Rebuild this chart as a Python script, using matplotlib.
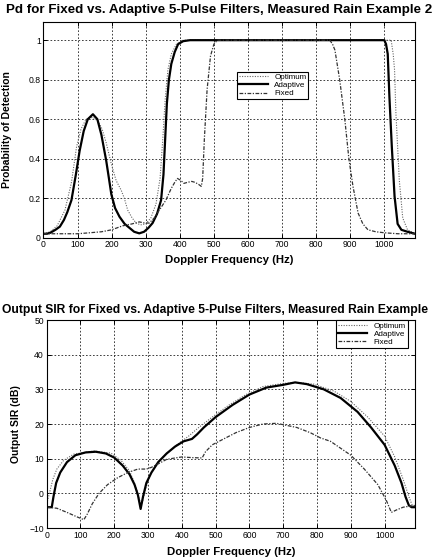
import numpy as np
import matplotlib
matplotlib.use("Agg")
import matplotlib.pyplot as plt

plt.rcParams['font.family'] = ['Liberation Sans', 'DejaVu Sans']

# --- Pd curves (Doppler frequency in Hz, probability of detection) ---
pd_opt_f = [0, 20, 40, 63, 82, 97, 110, 125, 145, 160, 172, 184, 198, 213, 228, 237,
            247, 260, 272, 285, 300, 315, 330, 342, 350, 357, 365, 375, 390, 410,
            1020, 1026, 1030, 1034, 1044, 1054, 1068, 1090]
pd_opt = [0.02, 0.03, 0.06, 0.14, 0.28, 0.46, 0.55, 0.6, 0.61, 0.59, 0.55, 0.48, 0.38,
          0.29, 0.24, 0.2, 0.14, 0.1, 0.074, 0.065, 0.07, 0.1, 0.17, 0.3, 0.5, 0.7,
          0.85, 0.93, 0.98, 1.0, 1.0, 0.93, 0.85, 0.63, 0.29, 0.1, 0.04, 0.02]

pd_adp_f = [0, 10, 20, 35, 48, 60, 70, 82, 95, 106, 118, 130, 145, 158, 170, 184, 192,
            199, 210, 223, 238, 252, 266, 281, 295, 308, 320, 333, 345, 352, 357, 362,
            368, 375, 385, 395, 410, 430, 1000, 1005, 1010, 1015, 1022, 1030, 1039,
            1050, 1068, 1090]
pd_adp = [0.02, 0.02, 0.025, 0.04, 0.056, 0.09, 0.13, 0.19, 0.32, 0.44, 0.54, 0.6, 0.625,
          0.6, 0.52, 0.39, 0.3, 0.22, 0.15, 0.106, 0.07, 0.05, 0.03, 0.022, 0.03, 0.05,
          0.074, 0.12, 0.19, 0.32, 0.5, 0.68, 0.8, 0.88, 0.94, 0.98, 0.995, 1.0, 1.0,
          0.98, 0.93, 0.71, 0.46, 0.21, 0.07, 0.04, 0.03, 0.02]

pd_fix_f = [0, 50, 100, 136, 170, 200, 232, 260, 281, 295, 310, 325, 340, 359, 375, 385,
            393, 403, 412, 422, 435, 445, 455, 463, 467, 472, 480, 490, 500, 510, 840,
            848, 855, 869, 884, 896, 908, 923, 937, 952, 975, 1000, 1040, 1090]
pd_fix = [0.02, 0.02, 0.02, 0.025, 0.03, 0.04, 0.06, 0.07, 0.08, 0.075, 0.074, 0.1, 0.14,
          0.19, 0.25, 0.28, 0.3, 0.29, 0.275, 0.28, 0.285, 0.28, 0.27, 0.26, 0.3, 0.5,
          0.75, 0.92, 0.98, 1.0, 1.0, 0.98, 0.95, 0.8, 0.6, 0.4, 0.26, 0.125, 0.07, 0.04,
          0.03, 0.025, 0.02, 0.02]

# --- Output SIR curves (dB) ---
sir_opt_f = [0, 8, 18, 30, 50, 80, 140, 190, 220, 245, 262, 275, 282, 292, 305, 325, 350,
             385, 420, 450, 490, 540, 590, 640, 700, 740, 790, 850, 900, 950, 1000, 1030,
             1055, 1072, 1082, 1090]
sir_opt = [-3, 0, 4, 7, 9.5, 11.3, 12.2, 11.6, 9.5, 6.5, 2.5, -2, -3, 1, 5, 8.5, 11, 14,
           16.5, 19, 22, 25.5, 28.5, 30.8, 31.7, 32, 31.5, 29.5, 26.5, 22, 16.5, 10.5, 4,
           -1, -3.5, -3.5]

sir_adp_f = [0, 15, 20, 28, 40, 60, 85, 115, 145, 175, 200, 225, 245, 260, 270, 278, 285,
             295, 310, 330, 355, 380, 405, 430, 445, 465, 500, 550, 600, 650, 700, 735,
             770, 820, 870, 920, 960, 1000, 1030, 1050, 1062, 1072, 1080, 1090]
sir_adp = [-4, -4, -1, 3, 6, 9, 11, 11.8, 12, 11.5, 10.3, 8, 5.5, 2.5, -0.5, -4.5, -1, 3,
           6, 9, 11.5, 13.5, 15, 15.7, 17, 19, 22, 25.5, 28.5, 30.5, 31.3, 32, 31.5, 30,
           27.5, 23.5, 19, 14, 8, 3, -1, -3.5, -4, -4]

sir_fix_f = [0, 30, 60, 90, 110, 120, 135, 155, 180, 210, 240, 270, 295, 310, 330, 355, 380,
             400, 430, 460, 470, 490, 520, 560, 600, 640, 680, 700, 740, 780, 810, 840,
             870, 900, 940, 980, 1005, 1020, 1035, 1055, 1075, 1090]
sir_fix = [-4, -4.3, -5.5, -6.8, -7.6, -6, -3, 0, 2.5, 4.5, 6, 7, 7, 7.5, 8.5, 9.8, 10.2,
           10.5, 10.3, 10.2, 12, 14, 15.5, 17.5, 19, 20, 20.2, 19.8, 19, 17.5, 16, 15, 13,
           11, 7, 2.5, -2, -5.5, -4.8, -4, -3.7, -3.5]

labels = ["Optimum", "Adaptive", "Fixed"]
x_ticks = list(range(0, 1001, 100))
pd_ticks = [0, 0.2, 0.4, 0.6, 0.8, 1.0]
pd_tick_labels = ["0", "0.2", "0.4", "0.6", "0.8", "1"]
sir_ticks = list(range(-10, 51, 10))

W, H = 439, 558
fig = plt.figure(figsize=(W / 100, H / 100), dpi=100)


def px_axes(left, top, right, bottom):
    return fig.add_axes([left / W, 1 - bottom / H, (right - left) / W, (bottom - top) / H])


def style(ax):
    ax.grid(True, color="#222222", linestyle=(0, (2, 2.2)), linewidth=0.6)
    ax.tick_params(direction="in", length=3, width=0.7, labelsize=6.2, top=True,
                   right=True, pad=2)
    for s in ax.spines.values():
        s.set_linewidth(0.8)


def draw(ax, opt, adp, fix):
    ax.plot(*opt, color="#666666", linestyle=(0, (1, 1.3)), linewidth=0.8, label=labels[0])
    ax.plot(*adp, color="black", linewidth=1.6, label=labels[1])
    ax.plot(*fix, color="#333333", linestyle=(0, (3, 1.2, 1, 1.2)), linewidth=0.9,
            label=labels[2])


def legend(ax, **kw):
    leg = ax.legend(fontsize=5.8, frameon=True, fancybox=False, edgecolor="black",
                    framealpha=1, handlelength=3.6, borderpad=0.25, labelspacing=0.05,
                    handletextpad=0.8, borderaxespad=0, **kw)
    leg.get_frame().set_linewidth(0.8)
    return leg


# top: probability of detection
ax1 = px_axes(43.5, 22, 415, 237.7)
draw(ax1, (pd_opt_f, pd_opt), (pd_adp_f, pd_adp), (pd_fix_f, pd_fix))
ax1.set_xlim(0, 1090)
ax1.set_ylim(0, 1.092)
ax1.set_xticks(x_ticks)
ax1.set_yticks(pd_ticks)
ax1.set_yticklabels(pd_tick_labels)
style(ax1)
ax1.set_xlabel("Doppler Frequency (Hz)", fontsize=8.2, fontweight="bold")
ax1.set_ylabel("Probability of Detection", fontsize=7.5, fontweight="bold")
ax1.xaxis.set_label_coords(0.5, -0.08)
ax1.yaxis.set_label_coords(-0.085, 0.5)
fig.text(0.5, 1 - 10 / H, "Pd for Fixed vs. Adaptive 5-Pulse Filters, Measured Rain Example 2",
         ha="center", va="center", fontsize=9.6, fontweight="bold")
legend(ax1, loc="upper left", bbox_to_anchor=(0.52, 0.77))

# bottom: output SIR
ax2 = px_axes(46.7, 320, 415, 528)
draw(ax2, (sir_opt_f, sir_opt), (sir_adp_f, sir_adp), (sir_fix_f, sir_fix))
ax2.set_xlim(0, 1090)
ax2.set_ylim(-10, 50)
ax2.set_xticks(x_ticks)
ax2.set_yticks(sir_ticks)
style(ax2)
ax2.set_xlabel("Doppler Frequency (Hz)", fontsize=8.2, fontweight="bold")
ax2.set_ylabel("Output SIR (dB)", fontsize=7.5, fontweight="bold")
ax2.xaxis.set_label_coords(0.5, -0.09)
ax2.yaxis.set_label_coords(-0.071, 0.5)
fig.text(2 / W, 1 - 310 / H,
         "Output SIR for Fixed vs. Adaptive 5-Pulse Filters, Measured Rain Example",
         ha="left", va="center", fontsize=8.7, fontweight="bold")
legend(ax2, loc="upper right", bbox_to_anchor=(0.98, 0.998))

fig.savefig("out.png", dpi=100)
